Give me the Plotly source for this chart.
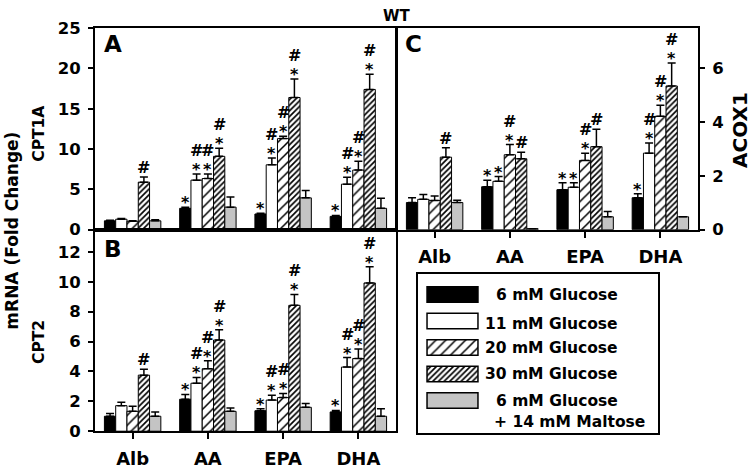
import plotly.graph_objects as go

# ---------------- data ----------------
categories = ["Alb", "AA", "EPA", "DHA"]
series = ["6 mM Glucose", "11 mM Glucose", "20 mM Glucose", "30 mM Glucose",
          "6 mM Glucose + 14 mM Maltose"]

# Panel A: CPT1A (rows = series, cols = categories)
cpt1a_mean = [
    [1.10, 2.65, 1.95, 1.65],
    [1.30, 6.15, 8.05, 5.65],
    [1.05, 6.35, 11.3, 7.40],
    [5.90, 9.10, 16.4, 17.4],
    [1.10, 2.80, 3.95, 2.65],
]
cpt1a_err = [
    [0.08, 0.15, 0.10, 0.12],
    [0.08, 0.75, 0.85, 0.85],
    [0.05, 0.55, 0.30, 1.10],
    [0.65, 1.00, 2.30, 1.90],
    [0.15, 1.25, 0.90, 1.25],
]
cpt1a_marks = [
    ["", "*", "*", "*"],
    ["", "#*", "#*", "#*"],
    ["", "#*", "#*", "#*"],
    ["#", "#*", "#*", "#*"],
    ["", "", "", ""],
]

# Panel B: CPT2
cpt2_mean = [
    [1.00, 2.14, 1.37, 1.29],
    [1.71, 3.21, 2.08, 4.29],
    [1.33, 4.18, 2.25, 4.86],
    [3.75, 6.10, 8.42, 9.92],
    [1.00, 1.33, 1.60, 1.00],
]
cpt2_err = [
    [0.18, 0.32, 0.13, 0.10],
    [0.22, 0.39, 0.32, 0.64],
    [0.34, 0.53, 0.28, 0.64],
    [0.39, 0.69, 0.73, 1.08],
    [0.29, 0.23, 0.26, 0.50],
]
cpt2_marks = [
    ["", "*", "*", "*"],
    ["", "#*", "#*", "#*"],
    ["", "#*", "#*", "#*"],
    ["#", "#*", "#*", "#*"],
    ["", "", "", ""],
]

# Panel C: ACOX1
acox1_mean = [
    [1.01, 1.60, 1.49, 1.19],
    [1.13, 1.80, 1.58, 2.85],
    [1.09, 2.79, 2.58, 4.22],
    [2.70, 2.64, 3.09, 5.35],
    [1.01, 0.04, 0.48, 0.48],
]
acox1_err = [
    [0.18, 0.24, 0.26, 0.15],
    [0.18, 0.18, 0.17, 0.38],
    [0.16, 0.38, 0.27, 0.41],
    [0.35, 0.24, 0.65, 0.85],
    [0.09, 0.00, 0.20, 0.00],
]
acox1_marks = [
    ["", "*", "*", "*"],
    ["", "*", "*", "#*"],
    ["", "#*", "#*", "#*"],
    ["#", "#", "#", "#*"],
    ["", "", "", ""],
]

cpt1a_ticks = [0, 5, 10, 15, 20, 25]
cpt2_ticks = [0, 2, 4, 6, 8, 10, 12]
acox1_ticks = [0, 2, 4, 6]

# ---------------- style ----------------
FONT = "DejaVu Sans"
W, H = 752, 470
fills = ["black", "white", "white", "white", "#c4c4c4"]
patterns = [None, None,
            dict(shape="/", size=7, solidity=0.22),
            dict(shape="/", size=4, solidity=0.42),
            None]


def px(x):
    return x / W


def py(y):
    return (H - y) / H


def make_marker(si, lw=1):
    m = dict(color=fills[si], line=dict(color="black", width=lw))
    if patterns[si]:
        m["pattern"] = dict(fgcolor="black", bgcolor="white", fillmode="replace", **patterns[si])
    return m


fig = go.Figure()
annotations = []
BAR_W = 0.75 / 5

panels = [
    ("x", "y", cpt1a_mean, cpt1a_err, cpt1a_marks),
    ("x2", "y2", cpt2_mean, cpt2_err, cpt2_marks),
    ("x3", "y3", acox1_mean, acox1_err, acox1_marks),
]
markfont = dict(family=FONT, size=16, color="black", weight="bold")
for xa, ya, means, errs, marks in panels:
    for si in range(5):
        fig.add_trace(go.Bar(
            x=categories, y=means[si], xaxis=xa, yaxis=ya, name=series[si],
            marker=make_marker(si),
            error_y=dict(type="data", symmetric=False, array=errs[si],
                         arrayminus=[0] * len(categories), color="black",
                         thickness=1.5, width=4),
            showlegend=False, hoverinfo="skip"))
        for gi in range(len(categories)):
            m = marks[si][gi]
            if not m:
                continue
            top = means[si][gi] + errs[si][gi]
            xpos = gi + (si - 2) * BAR_W
            base = dict(x=xpos, y=top, xref=xa, yref=ya, showarrow=False,
                        yanchor="bottom", borderpad=0, font=markfont)
            if "*" in m:
                annotations.append(dict(base, text="*", yshift=-6))
                if "#" in m:
                    annotations.append(dict(base, text="#", yshift=13))
            elif "#" in m:
                annotations.append(dict(base, text="#", yshift=-1))

# legend swatches (drawn as bars on a hidden axis)
for si in range(5):
    fig.add_trace(go.Bar(
        x=[1], y=[si], orientation="h", xaxis="x4", yaxis="y4", width=0.58,
        offsetgroup="leg", marker=make_marker(si, lw=1.5),
        showlegend=False, hoverinfo="skip"))

legend_lines = [("6 mM Glucose", 298, 620), ("11 mM Glucose", 328, 620),
                ("20 mM Glucose", 353, 620), ("30 mM Glucose", 380, 620),
                ("6 mM Glucose", 408, 620), ("+ 14 mM Maltose", 430, 647)]
for txt, yy, xr in legend_lines:
    annotations.append(dict(x=px(xr), y=py(yy), xref="paper", yref="paper", text=txt,
                            showarrow=False, xanchor="right", yanchor="middle",
                            font=dict(family=FONT, size=15.5, color="black", weight="bold")))

bold = lambda s: dict(family=FONT, size=s, color="black", weight="bold")
annotations += [
    dict(x=px(397), y=py(7), text="WT", font=bold(15)),
    dict(x=px(113), y=py(36), text="A", font=bold(23)),
    dict(x=px(113), y=py(250), text="B", font=bold(23)),
    dict(x=px(414), y=py(36), text="C", font=bold(23)),
    dict(x=px(39), y=py(130), text="CPT1A", textangle=-90, font=bold(15.5)),
    dict(x=px(39), y=py(347), text="CPT2", textangle=-90, font=bold(15.5)),
    dict(x=px(12), y=py(231), text="mRNA (Fold Change)", textangle=-90, font=bold(17)),
    dict(x=px(740), y=py(126), text="ACOX1", textangle=-90, font=bold(20)),
]
for a in annotations[-8:]:
    a.update(xref="paper", yref="paper", showarrow=False, xanchor="center", yanchor="middle")

xA = [px(95), px(396)]
xC = [px(397), px(698)]
yA = [py(230), py(20)]
yB = [py(440), py(230)]

line = dict(showline=True, linecolor="black", linewidth=2, mirror=True,
            showgrid=False, zeroline=False)
ytick = dict(ticks="outside", ticklen=5, tickwidth=2, tickcolor="black",
             tickfont=bold(16.5), ticklabelstandoff=4)
xtick = dict(ticks="outside", ticklen=6, tickwidth=2, tickcolor="black",
             tickfont=bold(18), ticklabelstandoff=4)

fig.update_layout(
    width=W, height=H, margin=dict(l=0, r=0, t=0, b=0),
    paper_bgcolor="white", plot_bgcolor="white",
    barmode="group", bargap=0.25, bargroupgap=0,
    showlegend=False,
    xaxis=dict(domain=xA, anchor="y", range=[-0.5, 3.5], ticks="", showticklabels=False, **line),
    yaxis=dict(domain=yA, anchor="x", range=[0, 25], tickvals=cpt1a_ticks, **line, **ytick),
    xaxis2=dict(domain=xA, anchor="y2", range=[-0.5, 3.5], **line, **xtick),
    yaxis2=dict(domain=yB, anchor="x2", range=[0, 13.48], tickvals=cpt2_ticks, **line, **ytick),
    xaxis3=dict(domain=xC, anchor="y3", range=[-0.5, 3.5], **line, **xtick),
    yaxis3=dict(domain=yA, anchor="x3", side="right", range=[0, 7.5], tickvals=acox1_ticks,
                **line, **ytick),
    xaxis4=dict(domain=[px(425.5), px(479.5)], anchor="y4", range=[-0.03, 1.03], visible=False),
    yaxis4=dict(domain=[py(421.8), py(283.7)], anchor="x4", range=[4.5, -0.5], visible=False),
    annotations=annotations,
    shapes=[dict(type="rect", xref="paper", yref="paper", x0=px(417), x1=px(659),
                 y0=py(443), y1=py(275), line=dict(color="black", width=2))],
)

fig.write_html("out.html", config={"displayModeBar": False},
               post_script="document.body.style.margin='0';document.body.style.overflow='hidden';")
